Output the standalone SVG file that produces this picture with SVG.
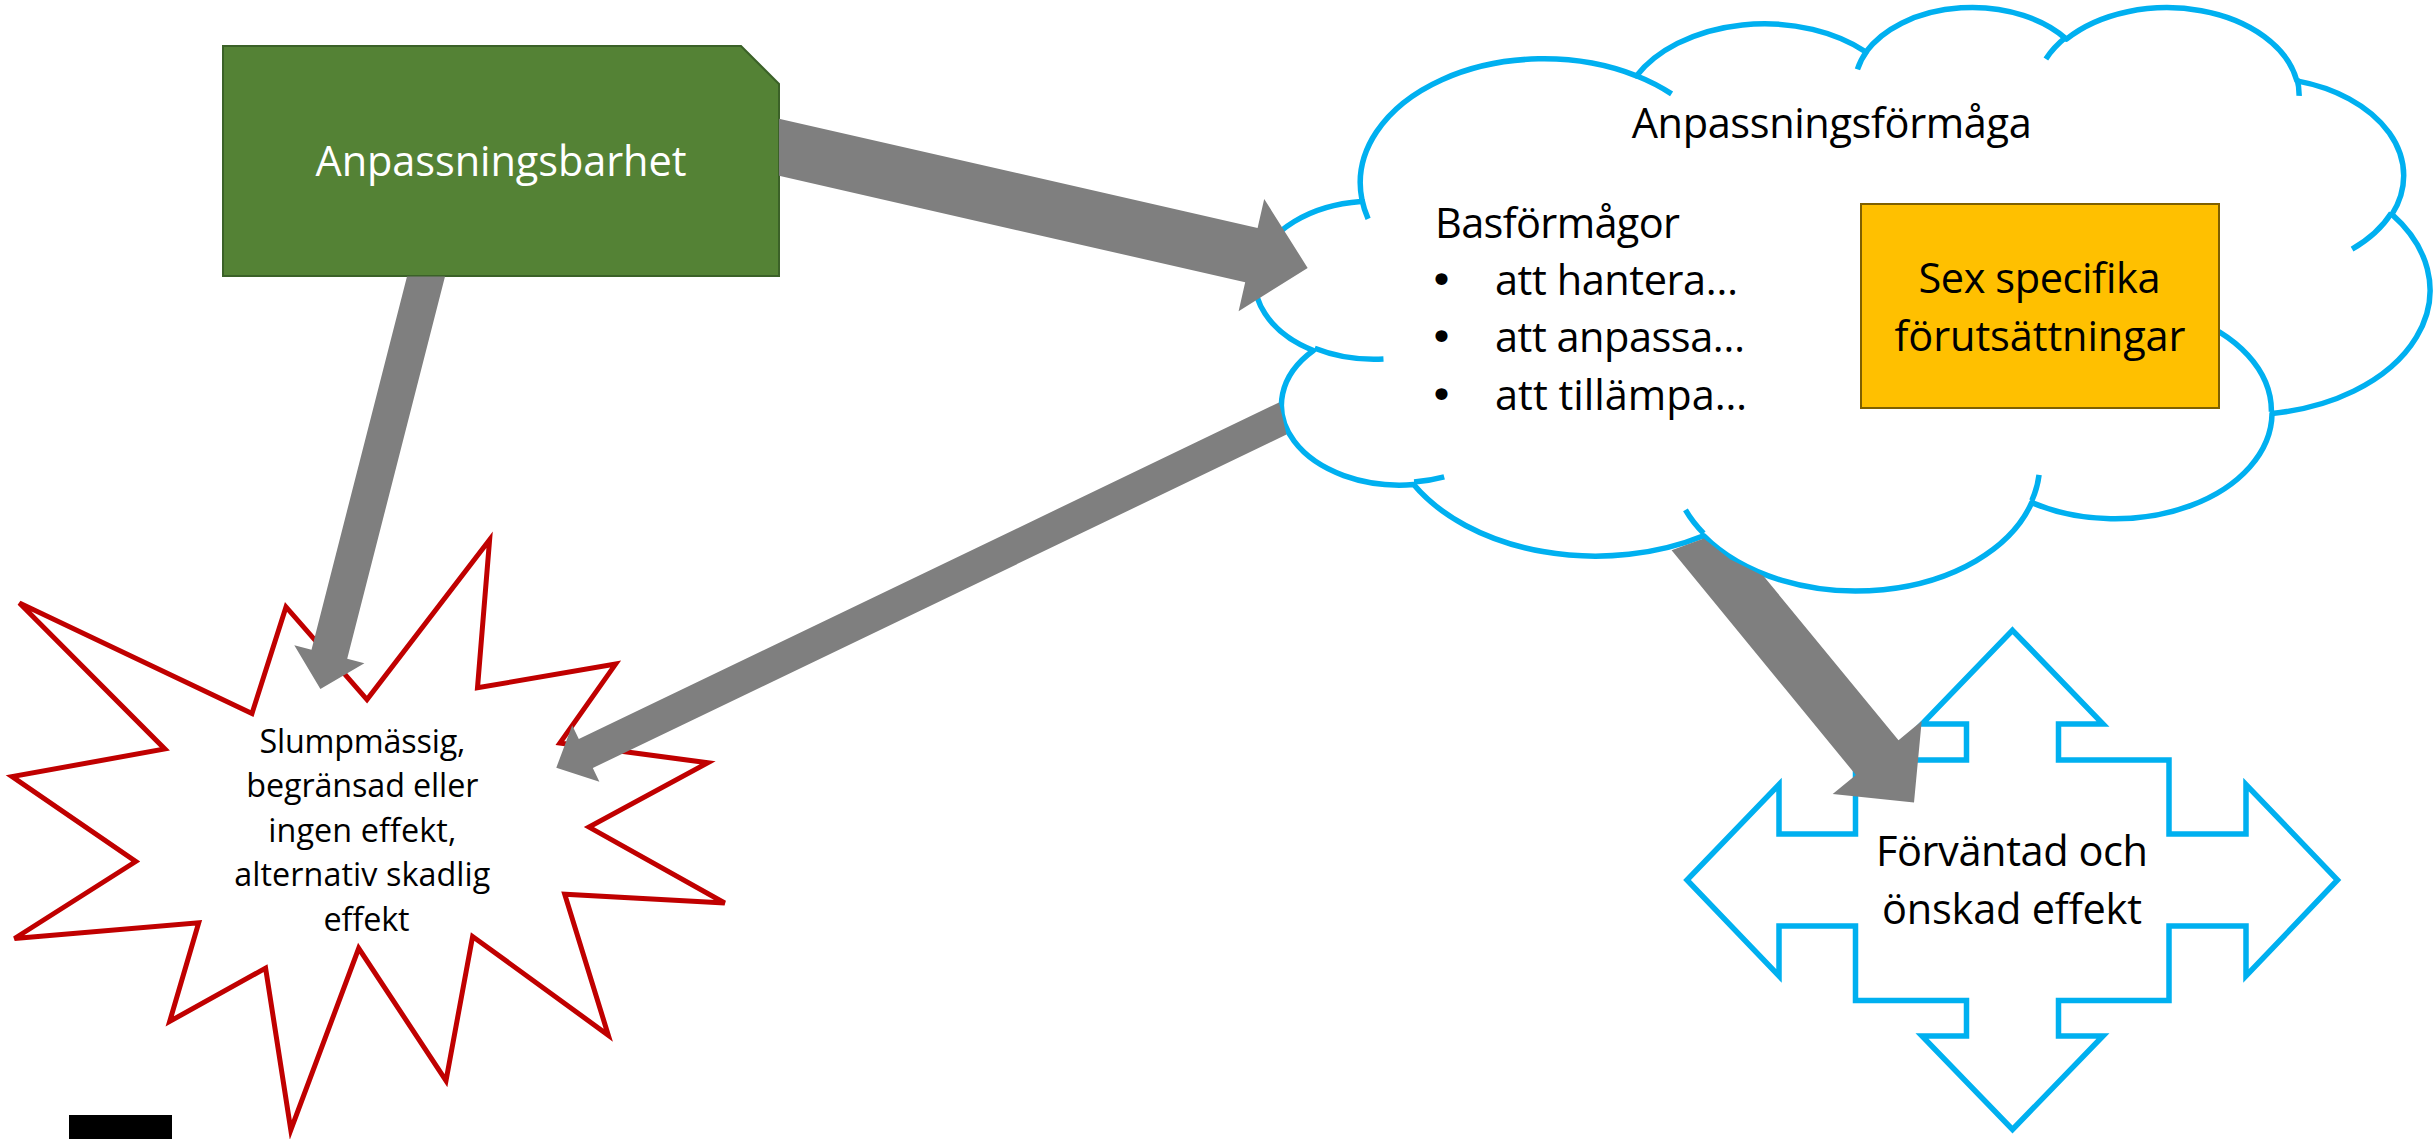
<svg xmlns="http://www.w3.org/2000/svg" width="2433" height="1139" viewBox="0 0 2433 1139">
<style>
  .t { font-family: "Open Sans", "Noto Sans", "Liberation Sans", sans-serif; fill: #000; }
  .big { font-size: 41.5px; }
  .bul { font-family: "DejaVu Sans", "Liberation Sans", sans-serif; font-size: 41.5px; }
  .small { font-size: 32.3px; }
  .arrow { fill: #7F7F7F; stroke: none; }
  .blue { fill: #fff; stroke: #00B0F0; stroke-width: 5.5; }
</style>
<rect x="0" y="0" width="2433" height="1139" fill="#fff"/>

<g id="anpassningsbarhet">
  <path d="M223,46 H741 L779,84 V276 H223 Z" fill="#548235" stroke="#3B6128" stroke-width="2"/>
  <text class="t big" x="501" y="176" text-anchor="middle" textLength="371" style="fill:#fff">Anpassningsbarhet</text>
</g>

<g id="anpassningsformaga">
  <g transform="translate(1256,5.6) scale(0.027164,0.013502)">
    <path class="blue" vector-effect="non-scaling-stroke" stroke-linejoin="round" d="M3900,14370 A6753,9190 0 0 1 14005.8,5202.4 A5333,7267 0 0 1 22455.9,3432.7 A4365,5945 0 0 1 29833.7,2482.3 A4857,6595 0 0 1 38318.9,5577.6 A5333,7273 0 0 1 41819.3,15461.7 A6775,9220 0 0 1 37403.9,30202.8 A5785,7867 0 0 1 28556.1,36813.5 A6752,9215 0 0 1 16480.8,39265.7 A7720,10543 0 0 1 5804.3,35473.3 A4360,5918 0 0 1 2112.8,25551.7 A4345,5945 0 0 1 3862.6,14508 Z"/>
    <path fill="none" stroke="#00B0F0" stroke-width="5.5" vector-effect="non-scaling-stroke" d="M4693,26177 A4345,5945 0 0 1 2159.9,25380.1 M6928,34899 A4360,5918 0 0 1 5819,35280.7 M16478,39090 A6752,9215 0 0 1 15809.8,37349.6 M28827,34751 A6752,9215 0 0 1 28560.6,36660.1 M34129,22954 A5785,7867 0 0 1 37380.8,30089.9 M41798,15354 A5333,7273 0 0 1 40350.5,18029.2 M38324,5426 A4857,6595 0 0 1 38400.4,6689.5 M29078,3952 A4857,6595 0 0 1 29820.3,2338.6 M22141,4720 A4365,5945 0 0 1 22500.1,3330.2 M14000,5192 A6753,9190 0 0 1 15298.9,6539.6 M4127,15789 A6753,9190 0 0 1 3900.1,14370"/>
  </g>
  <text class="t big" x="1831.7" y="138.3" text-anchor="middle" textLength="400">Anpassningsförmåga</text>
  <text class="t big" x="1435" y="238.3" textLength="245">Basförmågor</text>
  <text class="t big"><tspan class="bul" x="1441.5" y="294" text-anchor="middle">•</tspan><tspan x="1495" y="295" textLength="243">att hantera…</tspan></text>
  <text class="t big"><tspan class="bul" x="1441.5" y="350.7" text-anchor="middle">•</tspan><tspan x="1495" y="351.7" textLength="250">att anpassa…</tspan></text>
  <text class="t big"><tspan class="bul" x="1441.5" y="409" text-anchor="middle">•</tspan><tspan x="1495" y="410" textLength="252">att tillämpa…</tspan></text>
</g>

<g id="sex-specifika">
  <rect x="1861" y="204" width="358" height="204" fill="#FFC000" stroke="#7F6000" stroke-width="2"/>
  <text class="t big" x="2039.5" y="293.3" text-anchor="middle" textLength="242">Sex specifika</text>
  <text class="t big" x="2040" y="351" text-anchor="middle" textLength="291">förutsättningar</text>
</g>

<g id="slumpmassig">
  <polygon points="19.4,602.9 252,713.4 286,606.9 367,699.6 489.6,539.7 477.5,687.8 615.6,664.1 559.9,743 707.7,762.8 589,827.1 724.7,903 564.7,894.3 608.3,1035.2 472.6,936.5 446,1080.6 358.7,948.3 290.8,1130 265.6,968.1 169.7,1021.4 198.7,922.7 14.5,938.5 135.7,861.5 12.1,776.6 164.8,749" fill="#fff" stroke="#C00000" stroke-width="5"/>
  <text class="t small" text-anchor="middle">
    <tspan x="366.5" y="752.5" textLength="206">Slumpmässig,</tspan>
    <tspan x="366.5" y="797" textLength="232">begränsad eller</tspan>
    <tspan x="366.5" y="841.5" textLength="188">ingen effekt,</tspan>
    <tspan x="366.5" y="886" textLength="256">alternativ skadlig</tspan>
    <tspan x="366.5" y="930.5" textLength="86">effekt</tspan>
  </text>
</g>

<g id="forvantad-effekt">
  <polygon class="blue" points="2012.5,630.3 2103,724 2058.5,724 2058.5,760 2169,760 2169,834 2246,834 2246,784.5 2337.5,880 2246,976 2246,926 2169,926 2169,1000.5 2058.5,1000.5 2058.5,1036 2103,1036 2012.5,1129.5 1922,1036 1966.5,1036 1966.5,1000.5 1855.5,1000.5 1855.5,926 1779,926 1779,976 1687,880 1779,784.5 1779,834 1855.5,834 1855.5,760 1966.5,760 1966.5,724 1922,724"/>
  <text class="t big" x="2012" y="866.4" text-anchor="middle" textLength="272">Förväntad och</text>
  <text class="t big" x="2012" y="923.8" text-anchor="middle" textLength="260">önskad effekt</text>
</g>

<g id="marker-block">
  <rect x="69" y="1115" width="103" height="24" fill="#000"/>
</g>

<g id="connectors">
  <polygon class="arrow" points="779,118.7 1257.6,227.95 1264.2,199 1307.65,267.9 1238.6,311.2 1245.2,282.25 779,175.85"/>
  <polygon class="arrow" points="407,276.5 445,276.5 347.2,658.8 364.4,663.2 320.4,689.1 294.3,645.3 311.5,649.7"/>
  <polygon class="arrow" points="1279,402.5 578.8,739 572.2,725.2 556.3,767.7 599.4,781.8 592.8,768 1286.5,434.6"/>
  <polygon class="arrow" points="1671.6,550.3 1703.7,538.5 1730,559.3 1763.5,576 1898.5,740.2 1921.7,721.1 1914,802.5 1832.7,794.1 1855.9,775"/>
</g>
</svg>
